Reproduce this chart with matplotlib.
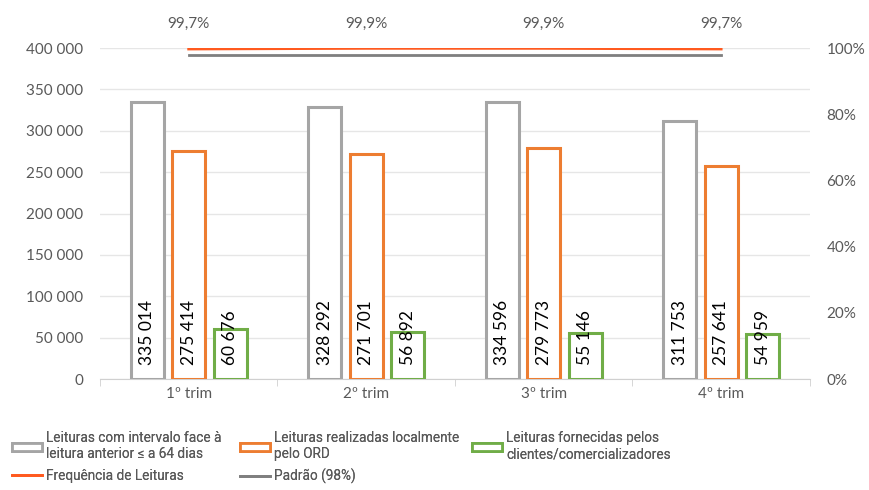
import numpy as np
import matplotlib.pyplot as plt
from matplotlib.patches import Patch
from matplotlib.lines import Line2D
from matplotlib.ticker import FuncFormatter
from matplotlib import font_manager

plt.rcParams['font.family'] = ['Lato', 'DejaVu Sans']

quarters = ['1º trim', '2º trim', '3º trim', '4º trim']
leituras_64 = [335014, 328292, 334596, 311753]
leituras_ord = [275414, 271701, 279773, 257641]
leituras_cli = [60676, 56892, 55146, 54959]
frequencia = [0.997, 0.999, 0.999, 0.997]
padrao = [0.98, 0.98, 0.98, 0.98]

names = ['Leituras com intervalo face à\nleitura anterior ≤ a 64 dias',
         'Leituras realizadas localmente\npelo ORD',
         'Leituras fornecidas pelos\nclientes/comercializadores',
         'Frequência de Leituras', 'Padrão (98%)']

c_gray = '#A5A5A5'
c_orange = '#ED7D31'
c_green = '#70AD47'
c_red = '#FF5A1F'
c_dgray = '#7F7F7F'
txt = '#595959'

def fmt_thousands(v, pos):
    return '{:,.0f}'.format(v).replace(',', ' ')

fig = plt.figure(figsize=(8.69, 4.90), dpi=100)
ax = fig.add_axes([0.115, 0.2265, 0.817, 0.6755])
ax2 = ax.twinx()

x = np.arange(len(quarters))
w = 0.186
off = 0.234
for vals, col, dx in [(leituras_64, c_gray, -off), (leituras_ord, c_orange, 0), (leituras_cli, c_green, off)]:
    ax.bar(x + dx, vals, w, facecolor='white', edgecolor=col, linewidth=2.2, zorder=3)
    for xi, v in zip(x + dx, vals):
        ax.annotate(fmt_thousands(v, None), xy=(xi, 0), xytext=(0, 10), textcoords='offset points',
                    rotation=90, ha='center', va='bottom', fontsize=12.5, color='black', zorder=4)

ax.set_ylim(0, 400000)
ax.set_xlim(-0.5, 3.5)
ax.set_yticks(np.arange(0, 400001, 50000))
ax.yaxis.set_major_formatter(FuncFormatter(fmt_thousands))
ax.grid(axis='y', color='#E6E6E6', linewidth=1, zorder=0)
ax.set_axisbelow(True)
ax.set_xticks(x)
ax.set_xticklabels(quarters)
ax.set_xticks(np.arange(-0.5, 3.6, 1), minor=True)
ax.tick_params(axis='x', which='major', length=0, colors=txt, labelsize=11, pad=6)
ax.tick_params(axis='x', which='minor', length=5, color='#D0D0D0')
ax.tick_params(axis='y', length=0, colors=txt, labelsize=11, pad=12)
for s in ['top', 'left', 'right']:
    ax.spines[s].set_visible(False)
ax.spines['bottom'].set_color('#D0D0D0')

ax2.plot(x, frequencia, color=c_red, linewidth=2, zorder=5)
ax2.plot(x, padrao, color=c_dgray, linewidth=2, zorder=5)
ax2.set_ylim(0, 1)
ax2.set_yticks(np.arange(0, 1.01, 0.2))
ax2.yaxis.set_major_formatter(FuncFormatter(lambda v, p: '{:.0f}%'.format(v * 100)))
ax2.tick_params(axis='y', length=0, colors=txt, labelsize=11, pad=12)
for s in ['top', 'left', 'right', 'bottom']:
    ax2.spines[s].set_visible(False)
for xi, v in zip(x, frequencia):
    ax2.annotate('{:.1f}%'.format(v * 100).replace('.', ','), xy=(xi, 1), xytext=(0, 12),
                 textcoords='offset points', ha='center', va='bottom', fontsize=11, color=txt)

# legend: three single-column blocks placed side by side
leg_prop = {'family': 'Roboto', 'size': 9.8}

blocks = [
    ([Patch(facecolor='white', edgecolor=c_gray, linewidth=2),
      Line2D([], [], color=c_red, linewidth=2)], [names[0], names[3]], 12),
    ([Patch(facecolor='white', edgecolor=c_orange, linewidth=2),
      Line2D([], [], color=c_dgray, linewidth=2)], [names[1], names[4]], 240),
    ([Patch(facecolor='white', edgecolor=c_green, linewidth=2)], [names[2]], 472),
]
for hs, ls, px in blocks:
    leg = fig.legend(hs, ls, loc='upper left', bbox_to_anchor=(px / 869, 1 - 431 / 490),
                     frameon=False, prop=leg_prop, labelcolor=txt, handlelength=2.2,
                     handleheight=0.55, handletextpad=0.3, labelspacing=0.55, borderpad=0.0,
                     borderaxespad=0.0)
    fig.add_artist(leg)

fig.savefig('out.png', dpi=100)
